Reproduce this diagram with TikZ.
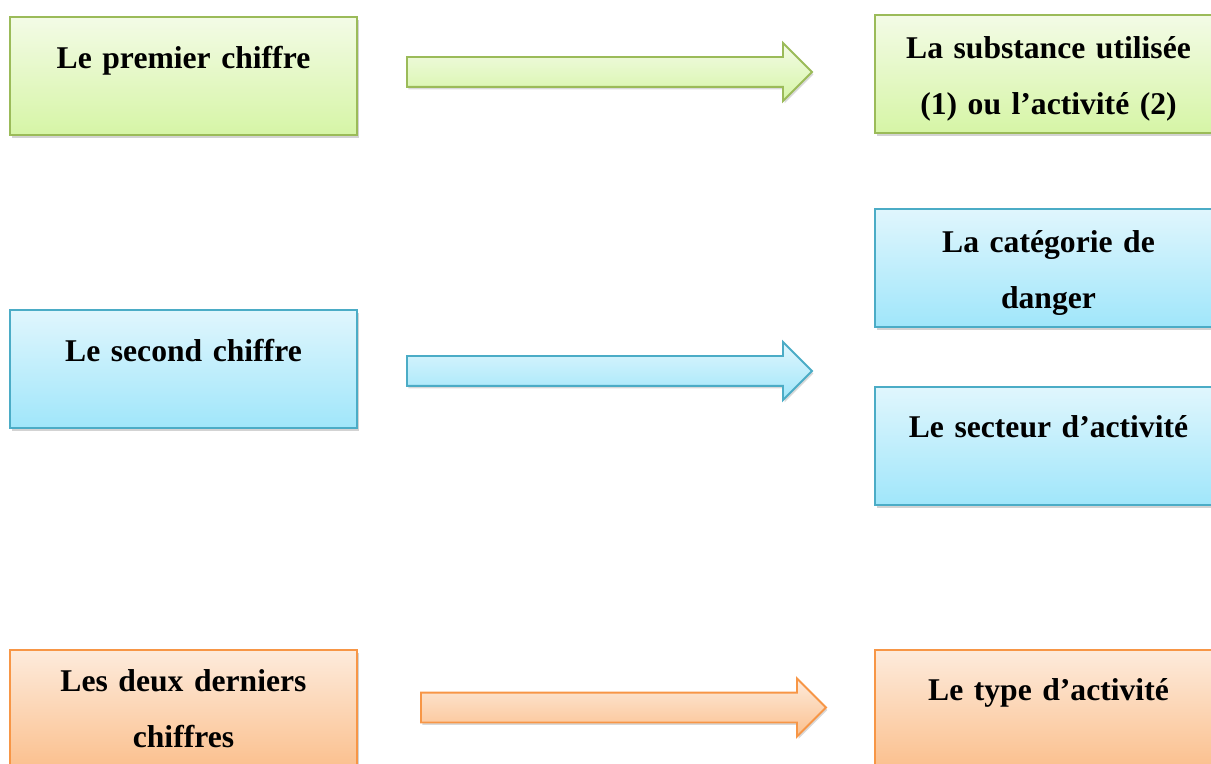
\documentclass[tikz,border=0pt]{standalone}
\usepackage{fontspec}
\setmainfont{Liberation Serif}
\usepackage{xcolor}
\usetikzlibrary{shapes.arrows, shadows, positioning}
\definecolor{vertbord}{RGB}{155,187,89}
\definecolor{verthaut}{RGB}{243,251,230}
\definecolor{vertbas}{RGB}{214,245,166}
\definecolor{bleubord}{RGB}{75,172,198}
\definecolor{bleuhaut}{RGB}{224,246,253}
\definecolor{bleubas}{RGB}{160,230,250}
\definecolor{orangebord}{RGB}{247,150,70}
\definecolor{orangehaut}{RGB}{253,235,220}
\definecolor{orangebas}{RGB}{251,192,142}
\tikzset{
    schema/.style={line width=1.1pt},
    codebox/.style={draw, minimum width=6.94cm, minimum height=2.36cm,
        text width=6.6cm, align=center, font=\fontsize{18}{32}\selectfont\bfseries,
        drop shadow={shadow xshift=0.04cm, shadow yshift=-0.06cm, opacity=0.35}},
    bigarrow/.style={single arrow, draw, minimum height=8.1cm, inner xsep=0pt,
        inner ysep=0.28cm, single arrow head extend=0.28cm, single arrow head indent=0pt,
        drop shadow={shadow xshift=0.03cm, shadow yshift=-0.05cm, opacity=0.3}},
    % couleurs par ligne du schema
    vert/.style={vertbord, top color=verthaut, bottom color=vertbas, text=black},
    bleu/.style={bleubord, top color=bleuhaut, bottom color=bleubas, text=black},
    orange/.style={orangebord, top color=orangehaut, bottom color=orangebas, text=black},
}

\begin{document}
\begin{tikzpicture}[schema]
    \clip (0,0) rectangle (24.22,-15.28);
    \useasboundingbox (0,0) rectangle (24.22,-15.28);

    \node[codebox, vert]   (premier)  at (3.67,-1.52)  {Le premier chiffre\\[-0.36cm]\mbox{}};
    \node[codebox, vert]   (substance) at (20.97,-1.48) {\rule{0pt}{0.65cm}La substance utilisée\\(1) ou l’activité (2)};
    \node[bigarrow, vert]  (fleche1)  at (12.04,-1.44) {};

    \node[codebox, bleu]   (second)   at (3.67,-7.38)  {Le second chiffre\\[-0.36cm]\mbox{}};
    \node[codebox, bleu]   (categorie) at (20.97,-5.36) {\rule{0pt}{0.65cm}La catégorie de\\danger};
    \node[codebox, bleu]   (secteur)  at (20.97,-8.92) {Le secteur d’activité\\[-0.36cm]\mbox{}};
    \node[bigarrow, bleu]  (fleche2)  at (12.04,-7.42) {};

    \node[codebox, orange] (derniers) at (3.67,-14.18) {Les deux derniers\\chiffres};
    \node[codebox, orange] (type)     at (20.97,-14.18) {Le type d’activité\\[-0.36cm]\mbox{}};
    \node[bigarrow, orange] (fleche3) at (12.32,-14.15) {};
\end{tikzpicture}
\end{document}
